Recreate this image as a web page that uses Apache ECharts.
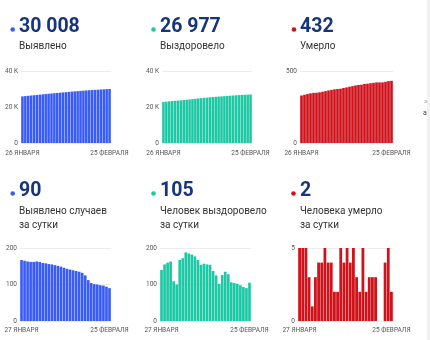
<!DOCTYPE html>
<html>
<head>
<meta charset="utf-8">
<script src="https://cdn.jsdelivr.net/npm/echarts@6/dist/echarts.min.js"></script>
<style>
html,body{margin:0;padding:0;background:#fff;}
#c{width:430px;height:340px;}
</style>
</head>
<body>
<div id="c"></div>
<script>
// ---- data ----
const datesCumulative = ['26 ЯНВАРЯ','27 ЯНВАРЯ','28 ЯНВАРЯ','29 ЯНВАРЯ','30 ЯНВАРЯ','31 ЯНВАРЯ',
  '1 ФЕВРАЛЯ','2 ФЕВРАЛЯ','3 ФЕВРАЛЯ','4 ФЕВРАЛЯ','5 ФЕВРАЛЯ','6 ФЕВРАЛЯ','7 ФЕВРАЛЯ','8 ФЕВРАЛЯ',
  '9 ФЕВРАЛЯ','10 ФЕВРАЛЯ','11 ФЕВРАЛЯ','12 ФЕВРАЛЯ','13 ФЕВРАЛЯ','14 ФЕВРАЛЯ','15 ФЕВРАЛЯ',
  '16 ФЕВРАЛЯ','17 ФЕВРАЛЯ','18 ФЕВРАЛЯ','19 ФЕВРАЛЯ','20 ФЕВРАЛЯ','21 ФЕВРАЛЯ','22 ФЕВРАЛЯ',
  '23 ФЕВРАЛЯ','24 ФЕВРАЛЯ','25 ФЕВРАЛЯ'];
const datesDaily = ['27 ЯНВАРЯ','28 ЯНВАРЯ','29 ЯНВАРЯ','30 ЯНВАРЯ','31 ЯНВАРЯ',
  '1 ФЕВРАЛЯ','2 ФЕВРАЛЯ','3 ФЕВРАЛЯ','4 ФЕВРАЛЯ','5 ФЕВРАЛЯ','6 ФЕВРАЛЯ','7 ФЕВРАЛЯ','8 ФЕВРАЛЯ',
  '9 ФЕВРАЛЯ','10 ФЕВРАЛЯ','11 ФЕВРАЛЯ','12 ФЕВРАЛЯ','13 ФЕВРАЛЯ','14 ФЕВРАЛЯ','15 ФЕВРАЛЯ',
  '16 ФЕВРАЛЯ','17 ФЕВРАЛЯ','18 ФЕВРАЛЯ','19 ФЕВРАЛЯ','20 ФЕВРАЛЯ','21 ФЕВРАЛЯ','22 ФЕВРАЛЯ',
  '23 ФЕВРАЛЯ','24 ФЕВРАЛЯ','25 ФЕВРАЛЯ'];

const casesTotal = [25889,26056,26221,26384,26546,26708,26871,27033,27192,27350,27506,27661,27814,
  27965,28114,28260,28403,28544,28683,28820,28955,29087,29212,29324,29428,29529,29629,29727,29824,29918,30008];
const recoveredTotal = [22841,22981,23136,23296,23459,23568,23668,23835,24007,24195,24380,24562,24739,
  24906,25060,25217,25372,25526,25663,25788,25890,26016,26151,26279,26385,26489,26591,26689,26782,26872,26977];
const deathsTotal = [330,335,340,345,348,349,352,356,360,365,369,373,375,377,382,386,391,395,400,403,
  405,410,412,415,418,421,421,421,425,430,432];

const casesDaily = [167,165,163,162,162,163,162,159,158,156,155,153,151,149,146,143,141,139,137,135,
  132,125,112,104,101,100,98,97,94,90];
const recoveredDaily = [140,155,160,163,109,100,167,172,188,185,182,177,167,154,157,155,154,137,125,102,
  126,135,128,106,104,102,98,93,90,105];
const deathsDaily = [5,5,5,3,1,3,4,4,5,4,4,2,2,5,4,5,4,5,3,2,5,2,3,3,3,0,0,4,5,2];

const headlineValues = ['30 008','26 977','432','90','105','2'];
const headlineLabels = [['Выявлено'],['Выздоровело'],['Умерло'],
  ['Выявлено случаев','за сутки'],['Человек выздоровело','за сутки'],['Человека умерло','за сутки']];
const yMax = [40000,40000,500,200,200,5];
const yInterval = [20000,20000,500,100,100,5];

// ---- layout / style ----
const BLUE = '#3a5cf6', GREEN = '#1dc8a4', RED = '#d0121b', NAVY = '#16357c';
const colors = [BLUE, GREEN, RED, BLUE, GREEN, RED];
const grids = [
  {left:21, top:71, width:90, height:72},
  {left:162, top:71, width:90, height:72},
  {left:300, top:71, width:93, height:72},
  {left:20, top:248, width:91, height:73},
  {left:160, top:248, width:91, height:73},
  {left:298, top:248, width:95, height:73}
];
const headPos = [
  {dot:[12.7,29.5], x:19, y:27},
  {dot:[153.5,29.5], x:160, y:27},
  {dot:[294,29.5], x:300, y:27},
  {dot:[12.7,193.5], x:19, y:191},
  {dot:[153.5,193.5], x:160, y:191},
  {dot:[293.5,193.5], x:300, y:191}
];
const labelY = [[46.5],[46.5],[46.5],[211.5,225],[211.5,225],[211.5,225]];

const seriesData = [casesTotal, recoveredTotal, deathsTotal, casesDaily, recoveredDaily, deathsDaily];
const cats = [datesCumulative, datesCumulative, datesCumulative, datesDaily, datesDaily, datesDaily];

const FONT = 'Roboto';
const xAxis = [], yAxis = [], series = [], graphic = [];
for (let i = 0; i < 6; i++) {
  const n = cats[i].length;
  xAxis.push({
    type:'category', gridIndex:i, data:cats[i],
    axisLine:{show:false}, axisTick:{show:false},
    axisLabel:{
      interval:(idx)=> idx===0 || idx===n-1,
      fontSize:6.5, color:'#555', fontFamily:FONT, margin: i<3 ? 7 : 6,
      hideOverlap:false
    }
  });
  yAxis.push({
    type:'value', gridIndex:i, min:0, max:yMax[i], interval:yInterval[i],
    axisLine:{show:false}, axisTick:{show:false},
    splitLine:{lineStyle:{color:'#ececec', width:1}},
    axisLabel:{
      fontSize:6.5, color:'#555', fontFamily:FONT, margin:3,
      formatter:(v)=> (yMax[i]>=10000 && v!==0) ? (v/1000)+' K' : String(v)
    }
  });
  series.push({
    type:'bar', xAxisIndex:i, yAxisIndex:i, data:seriesData[i],
    barCategoryGap:'12%', itemStyle:{color:colors[i]}, silent:true, animation:false
  });
  const hp = headPos[i];
  graphic.push({type:'circle', shape:{cx:hp.dot[0], cy:hp.dot[1], r:2.3}, style:{fill:colors[i]}});
  graphic.push({type:'text', x:hp.x, y:hp.y, style:{
    text:headlineValues[i], fill:NAVY, font:'bold 19.5px Roboto', textVerticalAlign:'middle', textAlign:'left'}});
  headlineLabels[i].forEach((t, j) => {
    graphic.push({type:'text', x:hp.x, y:labelY[i][j], style:{
      text:t, fill:'#333', font:'10px Roboto', textVerticalAlign:'middle', textAlign:'left'}});
  });
}
// partial neighbouring panel at right edge
graphic.push({type:'rect', shape:{x:427, y:0, width:3, height:340}, style:{fill:'#f1f1f1'}});
graphic.push({type:'text', x:424, y:101, style:{text:'з', fill:'#aaa', font:'6px Roboto', textVerticalAlign:'middle'}});
graphic.push({type:'text', x:423, y:113, style:{text:'а', fill:'#444', font:'7px Roboto', textVerticalAlign:'middle'}});

const chart = echarts.init(document.getElementById('c'), null, {renderer:'canvas'});
chart.setOption({
  animation:false,
  backgroundColor:'#fff',
  grid:grids.map(g => Object.assign({containLabel:false}, g)),
  xAxis, yAxis, series, graphic
});
</script>
</body>
</html>
